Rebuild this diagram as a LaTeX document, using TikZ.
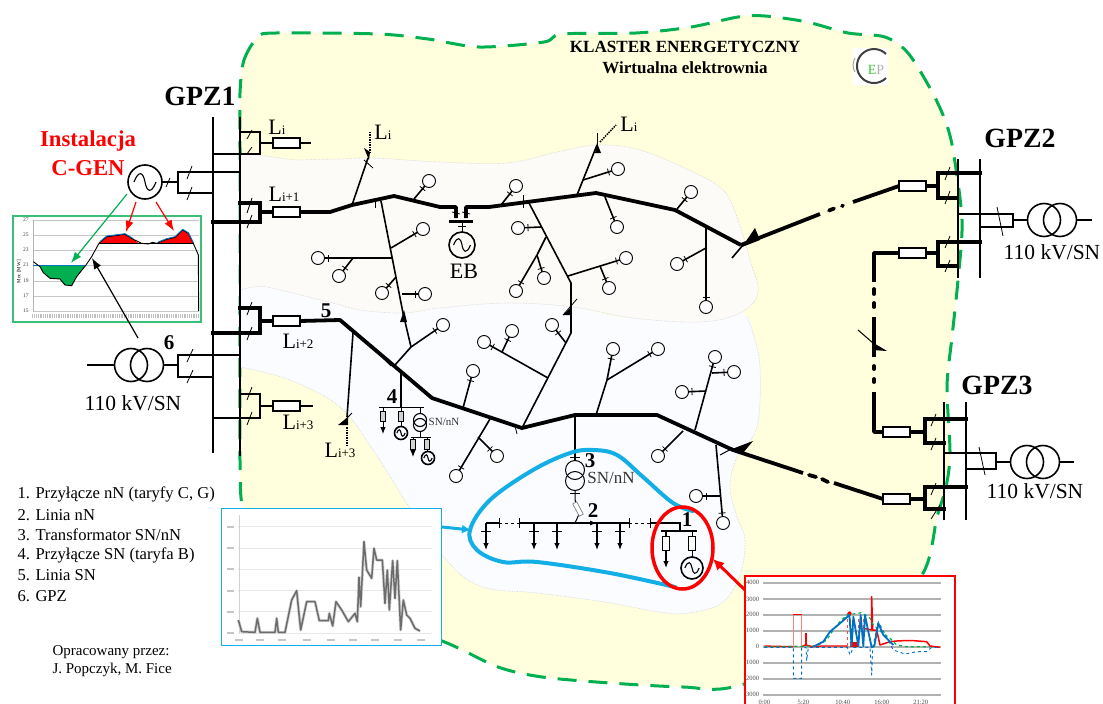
\documentclass[tikz,border=0pt]{standalone}
\usepackage{fontspec}
\setmainfont{Liberation Serif}
\usetikzlibrary{calc,arrows.meta}
\definecolor{yel}{HTML}{FFFFDD}
\definecolor{blobA}{HTML}{FDFBF8}
\definecolor{blobB}{HTML}{FBFCFF}
\definecolor{grn}{HTML}{00B050}
\definecolor{sky}{HTML}{14AEE6}
\definecolor{cblue}{HTML}{0070C0}
\definecolor{gborder}{HTML}{3CC078}
\newcounter{lc}
\newcommand\fsz[1]{\fontsize{#1}{#1}\selectfont}
\newcommand\ld[2]{\stepcounter{lc}%
  \node[loadc] (load\arabic{lc}) at (#2) {};
  \coordinate (ta) at ($(#2)!10pt!(#1)$);
  \draw[branch] (#1) -- (load\arabic{lc});
  \draw[tickm] ($(ta)!3.5pt!90:(#2)$) -- ($(ta)!3.5pt!-90:(#2)$);}
\newcommand\gen[3]{\node[genc,minimum size=#3*2pt] (#1) at (#2) {};
  \begin{scope}[shift={(#2)}]
  \draw[line width=1.1pt] (-.65*#3,0) .. controls (-.35*#3,-.75*#3) and (-.1*#3,-.55*#3) .. (0,0) .. controls (.1*#3,.55*#3) and (.35*#3,.75*#3) .. (.65*#3,0);
  \end{scope}}
\newcommand\Lt[3]{\node[anchor=base] (#1) at (#2) {\fsz{22}L\fsz{13}#3};}
\tikzset{
  mainl/.style={line width=3.8pt,line join=round},
  feedk/.style={line width=3.5pt,line join=miter},
  feedn/.style={line width=1.5pt,line join=miter},
  busb/.style={line width=1.8pt},
  branch/.style={line width=1.6pt,line join=round},
  tickm/.style={line width=.8pt},
  thin1/.style={line width=1pt},
  resb/.style={draw,fill=white,line width=1.5pt,minimum width=27pt,minimum height=10pt,inner sep=0pt,outer sep=0pt},
  loadc/.style={draw,circle,fill=white,line width=.9pt,minimum size=13pt,inner sep=0pt,outer sep=0pt},
  genc/.style={draw,circle,line width=1.6pt,inner sep=0pt,outer sep=0pt},
  trc/.style={draw,circle,line width=1.6pt,minimum size=33pt,inner sep=0pt,outer sep=0pt},
  trs/.style={draw,circle,line width=1.1pt,minimum size=13pt,inner sep=0pt,outer sep=0pt},
  fuseb/.style={draw,fill=gray!35,line width=.8pt,minimum width=5pt,minimum height=10pt,inner sep=0pt,outer sep=0pt},
  fusew/.style={draw,fill=white,line width=.9pt,minimum width=7pt,minimum height=14pt,inner sep=0pt,outer sep=0pt},
  dropa/.style={line width=1.2pt,-{Latex[length=7pt,width=5.5pt]}},
  bigt/.style={font=\fsz{27.8}\bfseries},
  kv/.style={font=\fsz{21.5}},
  num/.style={font=\fsz{21}\bfseries},
  leg/.style={anchor=west,font=\fsz{16.6}},
}
\begin{document}
\begin{tikzpicture}[x=1pt,y=-1pt]
\clip (0,0) rectangle (1103,704);
\fill[white] (0,0) rectangle (1103,704);
% cluster area
\def\cluster{(240,93) (244,60) (258,37) (276,33) (378,34) (428,39) (479,47) (544,42) (562,34) (636,33) (691,27) (738,17) (765,16) (807,22) (848,33) (885,37) (908,53) (931,90) (945,120) (953,150) (962,220) (958,280) (952,337) (947,387) (950,453) (946,487) (937,517) (922,575) (860,640) (737,686) (683,687) (610,683) (542,677) (498,667) (447,643) (340,600) (262,560) (243,510) (240,460) (240,300) (240,150)}
\fill[yel] plot[smooth cycle,tension=.5] coordinates {\cluster};
\draw[grn,line width=3pt,dash pattern=on 19pt off 12pt] plot[smooth cycle,tension=.5] coordinates {\cluster};
% area blobs
\begin{scope}
\clip (240,0) rectangle (1103,704);
\draw[blobB,fill=blobB] plot[smooth cycle,tension=.6] coordinates {(220,280) (267,287) (333,303) (403,313) (440,308) (507,303) (573,307) (633,318) (720,305) (747,317) (753,333) (760,367) (757,427) (737,457) (730,487) (737,517) (745,540) (740,575) (722,603) (688,613) (659,612) (605,602) (537,593) (483,587) (449,563) (410,508) (373,450) (340,407) (290,380) (240,367) (220,362)};
\draw[gray!35,densely dotted,line width=.6pt] plot[smooth,tension=.6] coordinates {(747,317) (753,333) (760,367) (757,427) (737,457) (730,487) (737,517) (745,540) (740,575) (722,603) (688,613) (659,612) (605,602) (537,593) (483,587) (449,563) (410,508) (373,450) (340,407) (290,380) (240,367)};
\draw[gray!35,densely dotted,line width=.6pt,fill=blobA] plot[smooth cycle,tension=.6] coordinates {(220,164) (300,160) (340,159) (373,158) (440,162) (507,163) (557,152) (597,145) (640,150) (693,172) (723,190) (737,217) (750,260) (758,293) (740,313) (700,322) (633,318) (573,307) (507,303) (440,308) (403,313) (360,310) (333,303) (267,287) (220,280)};
\end{scope}

% ---------- loads and branches, upper area
\draw[branch] (352,205) -- (368,158);
\fill (364,148) -- (370,152) -- (369,160) -- cycle;
\draw[tickm] (364,160) -- (373,168);
\draw[line width=1.5pt,densely dotted] (370,153) -- (370,132);
\draw[branch] (381,201) -- (403,313) -- (411,347) -- (395,365);
\fill (400,322) -- (404,310) -- (407,322) -- cycle;
\draw[tickm] (375,199) -- (375,208);
\ld{391,248}{423,229}
\draw[branch] (392,258) -- (353,258);
\ld{353,258}{318,258}
\ld{353,258}{339,276}
\ld{396,277}{382,293}
\ld{402,294}{425,294}
\ld{414,199}{429,181}
\ld{411,347}{443,325}
\draw[tickm] (383,358) -- (391,366);
\ld{501,205}{516,186}
\draw[branch] (529,203) -- (571,283) -- (571,333) -- (522,428);
\draw[tickm] (523,195) -- (523,208);
\fill (563,315) -- (571,307) -- (571,315) -- cycle;
\draw[tickm] (577,299) -- (563,315);
\ld{541,227}{518,228}
\draw[branch] (546,237) -- (537,255);
\ld{537,255}{516,291}
\ld{537,255}{544,278}
\ld{568,276}{626,258}
\ld{600,266}{609,288}
\draw[branch] (577,195) -- (597,145);
\fill (595,153) -- (597,143) -- (601,153) -- cycle;
\draw[tickm] (597,133) -- (597,145);
\draw[line width=1.5pt,densely dotted] (600,142) -- (616,125);
\ld{583,180}{618,169}
\ld{605,197}{617,227}
\ld{677,209}{691,192}
\ld{706,228}{706,307}
\ld{706,248}{677,264}

% ---------- lower area branches
\draw[branch] (353,333) -- (347,417);
\fill (338,425) -- (348,417) -- (348,425) -- cycle;
\draw[tickm] (352,413) -- (345,420);
\draw[line width=1.5pt,densely dotted] (347,427) -- (347,446);
\draw[branch] (401,373) -- (401,407);
\draw[thin1] (379,407) -- (424,407);
\draw[dropa,line width=.9pt] (383,407) -- (383,434);
\node[fuseb] (f1) at (383,416) {};
\draw[thin1] (401,407) -- (401,427);
\node[fuseb] (f2) at (401,416) {};
\gen{g1}{401,433}{6.5}
\node[trs] (t1) at (420,420) {};
\node[trs] (t2) at (420,425) {};
\draw[thin1] (t1.north) -- (420,407) (t2.south) -- (420,437);
\draw[thin1] (411,437) -- (431,437);
\draw[dropa,line width=.9pt] (413,437) -- (413,457);
\node[fuseb] (f3) at (413,444) {};
\draw[thin1] (427,437) -- (427,452);
\node[fuseb] (f4) at (427,444) {};
\gen{g2}{428,458}{6.5}
\ld{490,419}{456,476}
\ld{478,437}{497,456}
\ld{463,408}{473,371}
\ld{548,378}{484,342}
\ld{502,352}{512,331}
\ld{566,343}{552,325}
\draw[tickm] (515,426) -- (517,434);
\draw[branch] (596,415) -- (607,380);
\ld{607,380}{613,349}
\ld{607,380}{658,349}
\ld{695,430}{715,357}
\ld{706,391}{682,392}
\ld{712,373}{734,372}
\ld{683,431}{658,456}
\ld{716,445}{723,523}
\ld{720,496}{696,496}
% transformer and LV net
\draw[branch] (575,415) -- (575,461);
\draw[tickm] (570,457) -- (580,457);
\node[trs,line width=1pt,minimum size=19pt] (t3) at (575,470) {};
\node[trs,line width=1pt,minimum size=19pt] (t4) at (575,481) {};
\draw[thin1] (t4.south) -- (575,500) -- (580,512) -- (575,523);
\draw[tickm] (570,493) -- (580,493);
\node[draw=gray,fill=white,line width=.7pt,minimum width=14pt,minimum height=4.5pt,inner sep=0pt,rotate=-62] (f5) at (578,509) {};
\draw[line width=1.3pt] (486,523) -- (499,523);
\draw[line width=1pt,dashed] (499,523) -- (519,523);
\draw[line width=1.3pt] (519,523) -- (629,523);
\draw[line width=1pt,dashed] (629,523) -- (650,523);
\draw[line width=1.3pt] (650,523) -- (680,523) -- (680,531);
\draw[line width=1.2pt,-{Latex[length=7pt,width=5pt]}] (575,523) -- (597,523);
\foreach \tx in {499,519,629,650} \draw[tickm] (\tx,518) -- (\tx,528);
\foreach \dx in {486,534,557,597,620} {
  \draw[dropa] (\dx,523) -- (\dx,550);
  \draw[tickm] (\dx-5,531) -- (\dx+5,531);
}
% node 1
\draw[line width=1.3pt] (661,531) -- (697,531);
\draw[dropa] (666,531) -- (666,568);
\node[fusew] (f6) at (666,543) {};
\draw[thin1] (692,531) -- (692,557);
\node[fusew] (f7) at (692,543) {};
\gen{g3}{692,568}{11}
\draw[sky,line width=4pt,line cap=round] plot[smooth,tension=.6] coordinates {(693,511) (673,503) (643,477) (617,455) (593,450) (570,453) (533,470) (490,500) (470,530) (477,550) (503,562) (537,562) (610,573) (675,587)};
\draw[red,line width=3.5pt] (682.5,548) ellipse [x radius=30.5,y radius=41];

% ---------- GPZ1
\draw[busb] (213,117) -- (213,453);
\draw[busb] (240,117) -- (240,456);
\node[resb] (r1) at (286.5,143) {};
\node[resb] (r2) at (286.5,212) {};
\node[resb] (r3) at (286.5,321) {};
\node[resb] (r4) at (286.5,406) {};
\coordinate (e1) at (311,143);
\coordinate (e4) at (313,406);
\draw[feedn] (240,132) -- (260,132) -- (260,154) -- (213,154);
\draw[feedn] (260,143) -- (r1) (r1) -- (e1);
\draw[feedk] (238,203) -- (260,203) -- (260,222) -- (211,222);
\draw[feedk] (260,212) -- (r2);
\draw[feedk] (238,308) -- (260,308) -- (260,333) -- (211,333);
\draw[feedk] (260,321) -- (r3);
\draw[feedn] (240,394) -- (260,394) -- (260,418) -- (213,418);
\draw[feedn] (260,406) -- (r4) (r4) -- (e4);
\foreach \a/\b/\c/\d in {247/139/252/130,247/154/252/147,247/213/252/198,247/228/252/215,247/315/252/302,247/340/252/327,247/400/252/387,247/425/252/412,187/179/192/166,187/200/192/187,187/383/193/370,187/362/193/349,166/187/170/178}
  \draw[tickm] (\a,\b) -- (\c,\d);
% main feeders
\draw[mainl] (r2.east) -- (330,212) -- (352,205) -- (394,196) -- (440,207) -- (456,207) -- (456,218);
\draw[mainl] (466,218) -- (466,207) -- (489,207) -- (596,193) -- (675,210) -- (741,245);
\draw[line width=3.6pt] (449,221.5) -- (473,221.5);
\draw[tickm] (462,222) -- (462,232) (458,226) -- (466,226);
\draw[tickm] (452,212) -- (460,214) (462,212) -- (470,214);
\gen{gEB}{462,245}{13}
\draw[mainl] (r3.east) -- (340,320) -- (432,398) -- (522,428) -- (575,415) -- (657,415) -- (733,450) -- (803,473);
\draw[tickm] (385,358) -- (387,362);
% C-GEN
\gen{cgen}{145,182}{17}
\draw[feedn] (cgen) ++(17,0) -- (178,182);
\draw[feedn] (240,172) -- (178,172) -- (178,193) -- (213,193);
% transformer 6
\node[trc] (t6a) at (131,365) {};
\node[trc] (t6b) at (147,365) {};
\coordinate (t6l) at (87,365);
\draw[feedn] (t6l) -- (t6a.west);
\draw[feedn] (t6b.east) -- (178,365);
\draw[feedn] (240,355) -- (178,355) -- (178,377) -- (213,377);

% ---------- GPZ2
\draw[busb] (958,159) -- (958,278);
\draw[busb] (980,159) -- (980,278);
\node[resb] (r5) at (912.5,186) {};
\node[resb] (r6) at (912.5,253) {};
\draw[feedk] (982,173) -- (938,173) -- (938,198) -- (958,198);
\draw[feedk] (938,186) -- (r5);
\draw[feedk] (982,242) -- (938,242) -- (938,266) -- (958,266);
\draw[feedk] (938,253) -- (r6);
\draw[mainl] (741,245) -- (820,214);
\draw[mainl,line cap=round] (829,210.5) -- (834,208.5);
\draw[mainl,line cap=round] (842,206) -- (843,205.6);
\draw[mainl] (853,202) -- (r5.west);
\fill (742,247) -- (755,228) -- (760,240) -- cycle;
\draw[line width=1.6pt] (732,258) -- (743,245);
\draw[mainl] (r6.west) -- (874,253) -- (874,282);
\draw[mainl,line cap=round] (874,289) -- (874,294);
\draw[mainl,line cap=round] (874,303) -- (874,307);
\draw[mainl] (874,317) -- (874,357);
\draw[mainl,line cap=round] (874,366) -- (874,369);
\draw[mainl,line cap=round] (874,379) -- (874,382);
\draw[mainl] (874,392) -- (874,432) -- (883,432);
\fill (872,342) -- (872,350) -- (887,351) -- cycle;
\draw[line width=1pt] (858,330) -- (873,343);
\foreach \a/\b/\c/\d in {945/180/950/167,945/204/950/191,945/248/950/236,945/272/950/260,997/207/1003/236}
  \draw[tickm] (\a,\b) -- (\c,\d);
\node[trc] (t2a) at (1044,220) {};
\node[trc] (t2b) at (1060,220) {};
\coordinate (t2r) at (1092,220);
\draw[feedn] (958,214) -- (1013,214) -- (1013,227) -- (980,227);
\draw[feedn] (1013,220) -- (t2a.west);
\draw[feedn] (t2b.east) -- (t2r);

% ---------- GPZ3
\draw[busb] (944,402) -- (944,520);
\draw[busb] (966,402) -- (966,520);
\node[resb] (r7) at (896.5,432) {};
\node[resb] (r8) at (896.5,499) {};
\draw[feedk] (968,419) -- (925,419) -- (925,443) -- (946,443);
\draw[feedk] (925,432) -- (r7);
\draw[feedk] (968,487) -- (925,487) -- (925,509) -- (946,509);
\draw[feedk] (925,499) -- (r8);
\draw[mainl,line cap=round] (809,475) -- (816,477);
\draw[mainl,line cap=round] (822,479) -- (828,482);
\draw[mainl] (834,483) -- (r8.west);
\fill (732,449) -- (753,441) -- (743,453) -- cycle;
\draw[line width=1pt] (720,455) -- (733,448);
\foreach \a/\b/\c/\d in {931/426/936/414,931/450/936/438,931/495/936/483,931/519/940/505,979/447/985/475}
  \draw[tickm] (\a,\b) -- (\c,\d);
\node[trc] (t3a) at (1027,462) {};
\node[trc] (t3b) at (1043,462) {};
\coordinate (t3r) at (1074,462);
\draw[feedn] (944,453) -- (996,453) -- (996,469) -- (966,469);
\draw[feedn] (996,462) -- (t3a.west);
\draw[feedn] (t3b.east) -- (t3r);

% ---------- green chart
\coordinate (gs) at (138,338);
\begin{scope}[shift={(0,80)},x=.33333pt,y=-.33333pt]
\draw[fill=white,draw=gborder,line width=1.8pt] (38,408) rectangle (603,727);
\foreach \gy in {420,465,510,555,603,648,693} \draw[gray!45,line width=.7pt] (100,\gy) -- (597,\gy);
\draw[gray!60,line width=.6pt] (100,420) -- (100,693);
\foreach \gy/\gt in {420/27,465/25,510/23,555/21,603/19,648/17,693/15}
  \node[font=\fsz{5.5},text=black!75,inner sep=0pt] (gl\gt) at (78,\gy) {\gt};
\node[font=\fsz{5},rotate=90,inner sep=0pt] (gmoc) at (57,575) {Moc [MW]};
\draw[gray!50,line width=3.5pt,dash pattern=on 1pt off .8pt] (97,708) -- (595,708);
\fill[grn] (105,555) -- (120,560) -- (130,578) -- (150,595) -- (180,597) -- (195,615) -- (215,617) -- (230,590) -- (258,555) -- cycle;
\fill[red] (297,489) -- (320,470) -- (345,467) -- (375,463) -- (400,478) -- (415,489) -- cycle;
\fill[red] (475,489) -- (500,478) -- (525,472) -- (548,450) -- (565,460) -- (580,489) -- cycle;
\draw[cblue,line width=.9pt] (100,555) -- (258,555);
\draw[line width=.8pt] (297,489) -- (580,489);
\draw[line width=.9pt,line join=round] (100,545) -- (120,560) -- (130,578) -- (150,595) -- (180,597) -- (195,615) -- (215,617) -- (230,590) -- (258,555) -- (275,530) -- (297,490) -- (320,470) -- (345,467) -- (375,463) -- (400,478) -- (425,490) -- (445,492) -- (458,487) -- (470,490) -- (500,478) -- (525,472) -- (548,450) -- (565,460) -- (580,490) -- (595,525) -- (596,693);
\draw[cblue,line width=.9pt,line join=round] (300,485) -- (320,468) -- (345,465) -- (375,461) -- (400,476) (475,486) -- (500,476) -- (525,470) -- (548,448) -- (565,458) -- (580,488);
\end{scope}
\coordinate (gt) at (92,258);
\draw[line width=1.2pt,-{Latex[length=11pt,width=8pt]}] (gs) -- (gt);
\coordinate (ga) at (127,194);
\coordinate (gb) at (71,263);
\coordinate (ra) at (136,202);
\coordinate (rb) at (126,232);
\coordinate (rc) at (156,202);
\coordinate (rd) at (174,231);
\draw[grn,line width=1.2pt,-{Latex[length=11pt,width=8pt]}] (ga) -- (gb);
\draw[red,line width=1.2pt,-{Latex[length=11pt,width=8pt]}] (ra) -- (rb);
\draw[red,line width=1.2pt,-{Latex[length=11pt,width=8pt]}] (rc) -- (rd);

% ---------- blue chart
\begin{scope}[shift={(210,500)},x=.33333pt,y=-.33333pt]
\draw[fill=white,draw=sky,line width=1.5pt] (35,25) rectangle (695,437);
\foreach \gy in {80,145,208,272,335,400} {
  \draw[gray!18,line width=.7pt] (85,\gy) -- (665,\gy);
  \draw[gray!45,line width=2pt] (50,\gy) -- (72,\gy);
}
\draw[gray!35,line width=.6pt] (88,45) -- (88,400);
\foreach \gx in {88,150,215,290,362,428,495,565,632} \draw[gray!45,line width=2pt] (\gx-12,420) -- (\gx+12,420);
\def\gline{(85,360) -- (95,395) -- (135,397) -- (142,355) -- (150,397) -- (195,397) -- (200,355) -- (205,397) -- (225,397) -- (245,300) -- (260,272) -- (272,390) -- (290,305) -- (315,305) -- (328,362) -- (355,362) -- (358,340) -- (368,378) -- (378,305) -- (395,330) -- (415,365) -- (435,340) -- (442,365) -- (447,232) -- (452,320) -- (462,125) -- (470,210) -- (485,235) -- (492,145) -- (500,180) -- (517,180) -- (525,310) -- (532,210) -- (538,330) -- (548,182) -- (555,295) -- (562,182) -- (572,390) -- (580,300) -- (590,345) -- (600,355) -- (615,385) -- (630,393)}
\draw[gray!35,line width=3pt,line join=round] \gline;
\draw[gray!85!black,line width=1.5pt,line join=round] \gline;
\end{scope}
\coordinate (bs) at (442,527);
\coordinate (bt) at (471,530);
\draw[sky,line width=3pt,-{Latex[length=9pt,width=9pt]}] (bs) -- (bt);

% ---------- red chart
\draw[red,fill=white,line width=1.2pt] (745,576) rectangle (955,710);
\begin{scope}[shift={(730,570)},x=.33333pt,y=-.33333pt]
\foreach \gy/\gt in {38/4000,87/3000,134/2000,182/1000,230/0,278/-1000,326/-2000,374/-3000} {
  \draw[gray!60,line width=1.8pt] (100,\gy) -- (632,\gy);
  \node[font=\fsz{6.5},text=black!70,inner sep=0pt,anchor=east] (cl\gt) at (88,\gy) {\gt};
}
\foreach \gx/\gt/\gn in {103/0:00/a,220/5:20/b,338/10:40/c,455/16:00/d,572/21:20/e}
  \node[font=\fsz{6.5},text=black!70,inner sep=0pt] (cx\gn) at (\gx,396) {\gt};
\draw[red!50,line width=.8pt] (190,230) -- (190,133) -- (215,133) -- (215,230);
\draw[red,line width=1.5pt] (190,133) -- (215,133);
\fill[red] (225,188) rectangle (232,228);
\fill[red] (360,215) rectangle (385,230);
\draw[red,line width=1.3pt,line join=round] (103,228) -- (190,230) (215,230) -- (225,225) -- (250,230) -- (275,228) -- (352,228) -- (352,225);
\draw[red!70,line width=.8pt,dashed] (352,228) -- (352,130) (360,130) -- (360,228) (385,228) -- (385,140) (400,228) -- (400,140);
\fill[red] (359,130) circle [radius=6];
\draw[red,line width=1.5pt,line join=round] (400,175) -- (425,180) -- (425,80) -- (428,180) -- (440,180) -- (450,225) -- (480,215) -- (500,213) -- (520,212) -- (550,212) -- (590,215) -- (600,228) -- (630,232);
\draw[grn,line width=1.2pt,dashed] (103,230) -- (260,228) -- (290,210) -- (320,165) -- (350,135) -- (395,128) -- (420,145) -- (430,165) -- (450,183) -- (480,205) -- (500,225) -- (530,230) -- (600,230);
\draw[cblue,line width=.9pt,dashed,line join=round] (103,232) -- (190,232) -- (190,325) -- (215,325) -- (215,232) -- (228,232) -- (230,272) -- (235,232) -- (352,232) -- (360,255) -- (370,232) -- (420,232) -- (425,315) -- (428,232) -- (445,155) -- (490,240) -- (525,252) -- (560,245) -- (590,245) -- (605,232) -- (630,232);
\draw[cblue,line width=1.8pt,line join=round] (250,230) -- (280,215) -- (300,185) -- (330,160) -- (358,135) -- (365,228) -- (370,140) -- (385,228) -- (392,135) -- (400,228) -- (405,135) -- (415,185) -- (425,232) -- (433,228) -- (445,160) -- (460,195) -- (490,225);
\end{scope}
\coordinate (rs) at (745,590);
\coordinate (rt) at (713,559);
\draw[red,line width=3pt,-{Latex[length=11pt,width=11pt]}] (rs) -- (rt);

% ---------- logo
\fill[white] (853,48) rectangle (888,85);
\draw[black!75,line width=2pt] (886,54) arc[start angle=45,end angle=315,radius=17pt];
\draw[gray!70,line width=1pt] (855,58) arc[start angle=150,end angle=210,radius=14pt];
\node[font=\fsz{14},inner sep=0pt] (logo) at (876,70) {\textcolor{green!55!gray}{E}\textcolor{gray!60}{P}};

% ---------- texts
\node[bigt] (gpz1) at (200,96) {GPZ1};
\node[bigt] (gpz2) at (1020,138) {GPZ2};
\node[bigt] (gpz3) at (997,385) {GPZ3};
\node[font=\fsz{22.7}\bfseries,text=red] (inst) at (88,141) {Instalacja};
\node[font=\fsz{22.7}\bfseries,text=red] (cg) at (88,168) {C-GEN};
\node[font=\fsz{17.1}\bfseries] (kl) at (685,47) {KLASTER ENERGETYCZNY};
\node[font=\fsz{17}\bfseries] (wi) at (685,68) {Wirtualna elektrownia};
\node[kv] (kv1) at (1052,252) {110 kV/SN};
\node[kv] (kv2) at (1035,491) {110 kV/SN};
\node[kv] (kv3) at (133,403) {110 kV/SN};
\Lt{li1}{277,134}{i}
\Lt{li2}{284,201}{i+1}
\Lt{li3}{298,348}{i+2}
\Lt{li4}{298,429}{i+3}
\Lt{li5}{383,139}{i}
\Lt{li6}{629,131}{i}
\Lt{li7}{340,457}{i+3}
\node[font=\fsz{22}] (eb) at (464,271) {EB};
\node[num] (n1) at (687,520) {1};
\node[num] (n2) at (593,511) {2};
\node[num] (n3) at (590,461) {3};
\node[num] (n4) at (392,397) {4};
\node[num] (n5) at (326,311) {5};
\node[num] (n6) at (169,343) {6};
\node[font=\fsz{17},text=black!80] (sn1) at (611,478) {SN/nN};
\node[font=\fsz{11},text=black!80] (sn2) at (444,422) {SN/nN};
\node[leg] (l1) at (14,494) {1. Przyłącze nN (taryfy C, G)};
\node[leg] (l2) at (14,515) {2. Linia nN};
\node[leg] (l3) at (14,535) {3. Transformator SN/nN};
\node[leg] (l4) at (14,555) {4. Przyłącze SN (taryfa B)};
\node[leg] (l5) at (14,575) {5. Linia SN};
\node[leg] (l6) at (14,596) {6. GPZ};
\node[font=\fsz{15},anchor=west] (o1) at (49,652) {Opracowany przez:};
\node[font=\fsz{15},anchor=west] (o2) at (49,670) {J. Popczyk, M. Fice};
\end{tikzpicture}
\end{document}
